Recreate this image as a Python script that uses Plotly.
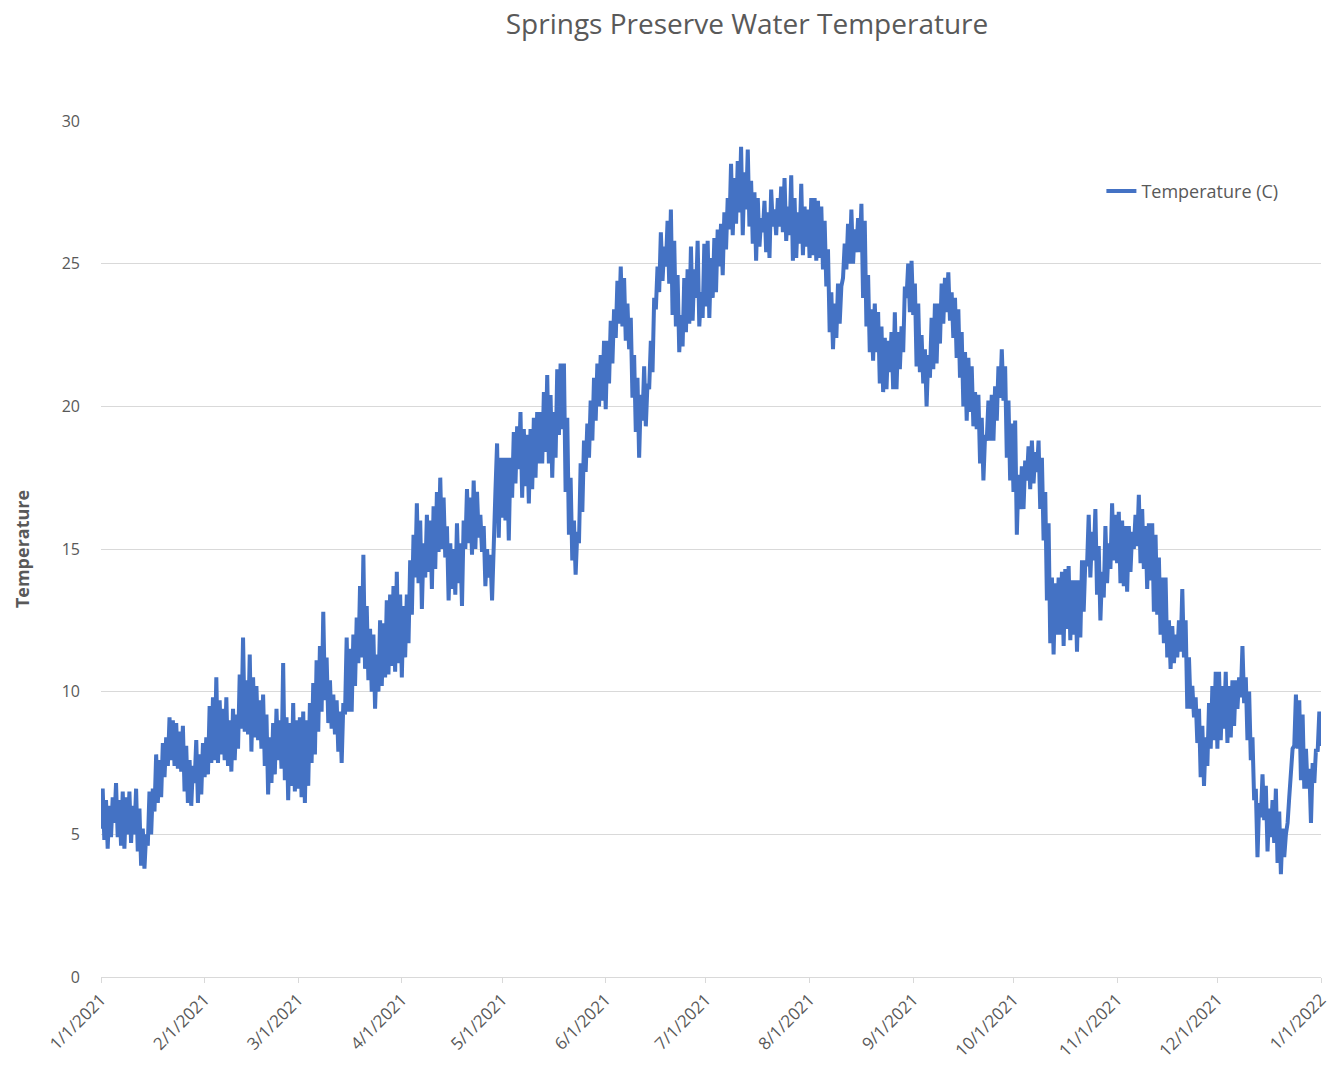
import datetime as dt
import plotly.graph_objects as go

# Daily low / high water temperature (deg C), one pair of lists per month of 2021
jan_lo = [5.2, 4.8, 4.5, 4.9, 5.4, 4.9, 4.6, 4.5, 5.0, 4.7, 5.0, 4.4, 3.9, 3.8, 4.6, 5.0,
          5.8, 6.1, 6.3, 7.0, 7.4, 7.6, 7.4, 7.3, 7.2, 6.5, 6.1, 6.0, 6.8, 6.1, 6.4]
jan_hi = [6.6, 6.2, 6.0, 6.3, 6.8, 6.2, 6.5, 6.3, 6.5, 6.0, 6.6, 5.9, 5.2, 5.0, 6.5, 6.6,
          7.8, 7.6, 8.2, 8.4, 9.1, 9.0, 8.9, 8.6, 8.8, 8.1, 7.6, 7.4, 8.3, 7.8, 8.2]
feb_lo = [7.0, 7.1, 7.5, 7.6, 7.5, 7.8, 7.6, 7.4, 7.2, 7.6, 8.0, 8.7, 8.6, 8.5, 7.9, 8.4,
          8.3, 8.0, 7.4, 6.4, 6.8, 7.1, 7.6, 7.3, 6.9, 6.2, 6.7, 6.5]
feb_hi = [8.4, 9.5, 9.8, 10.5, 9.7, 9.4, 9.8, 9.0, 9.4, 9.2, 10.6, 11.9, 10.4, 11.3, 10.5,
          10.2, 9.7, 9.9, 9.2, 8.4, 8.9, 9.4, 9.0, 11.0, 9.1, 8.9, 9.6, 9.0]
mar_lo = [6.6, 6.3, 6.1, 6.7, 7.5, 7.8, 8.6, 9.3, 9.7, 8.9, 8.7, 8.5, 7.9, 7.5, 9.2, 9.3,
          9.3, 10.2, 11.0, 11.2, 10.8, 10.4, 10.0, 9.4, 10.0, 10.2, 10.5, 10.6, 10.9, 10.7, 11.0]
mar_hi = [9.1, 9.3, 9.0, 9.6, 10.3, 11.1, 11.6, 12.8, 11.2, 10.4, 9.9, 9.7, 9.3, 9.6, 11.9,
          11.5, 12.0, 12.6, 13.7, 14.8, 13.0, 12.2, 12.0, 11.3, 12.5, 12.4, 13.2, 13.4, 13.7,
          14.2, 13.4]
apr_lo = [10.5, 11.2, 11.7, 12.7, 14.0, 13.8, 12.9, 14.0, 14.2, 13.6, 14.3, 14.9, 15.0, 14.7,
          13.2, 13.6, 13.4, 13.8, 13.0, 15.0, 15.2, 14.8, 15.0, 15.4, 14.9, 13.7, 14.0, 13.2,
          17.0, 15.4]
apr_hi = [13.0, 13.4, 14.6, 15.5, 16.6, 16.0, 15.2, 16.2, 16.0, 16.5, 17.0, 17.5, 16.8, 15.8,
          15.2, 15.0, 15.9, 15.2, 16.0, 17.1, 16.8, 17.4, 17.0, 16.2, 15.8, 15.0, 14.8, 15.7,
          18.7, 18.2]
may_lo = [16.1, 16.0, 15.3, 16.8, 17.3, 17.8, 16.8, 17.2, 16.6, 17.1, 17.5, 18.0, 18.0, 18.4,
          18.0, 17.5, 18.2, 19.0, 19.2, 17.0, 15.5, 14.6, 14.1, 15.2, 16.3, 17.7, 18.2, 18.8,
          19.5, 20.0, 20.2]
may_hi = [18.2, 18.2, 18.2, 19.1, 19.3, 19.8, 19.2, 19.0, 19.2, 19.6, 19.8, 19.8, 20.5, 21.1,
          20.4, 19.8, 21.3, 21.5, 21.5, 19.6, 17.5, 16.0, 15.6, 18.0, 18.8, 19.4, 20.2, 21.0,
          21.5, 21.8, 22.3]
jun_lo = [19.9, 20.8, 21.5, 22.4, 22.9, 22.8, 22.3, 22.0, 20.3, 19.1, 18.2, 19.5, 19.3, 20.6,
          21.2, 23.4, 24.0, 24.4, 24.9, 24.3, 23.2, 22.8, 21.9, 22.1, 22.6, 22.9, 23.0, 23.8,
          22.8, 23.1]
jun_hi = [22.3, 23.0, 23.4, 24.4, 24.9, 24.5, 23.6, 23.1, 21.8, 21.0, 20.4, 21.4, 20.8, 22.3,
          23.8, 24.9, 26.1, 25.6, 26.5, 26.9, 25.8, 24.6, 23.2, 24.5, 24.8, 25.6, 24.8, 25.8,
          24.0, 25.7]
jul_lo = [23.5, 23.1, 23.8, 24.0, 24.9, 24.6, 25.5, 26.2, 26.0, 26.4, 26.8, 26.0, 26.9, 26.3,
          25.7, 25.1, 25.6, 26.1, 25.4, 25.2, 26.3, 26.0, 26.3, 26.1, 25.8, 26.0, 25.1, 25.2,
          25.7, 25.3, 25.6]
jul_hi = [25.8, 25.2, 25.9, 26.2, 26.4, 26.8, 27.3, 28.5, 28.0, 28.6, 29.1, 28.2, 29.0, 27.9,
          27.5, 27.3, 26.6, 27.2, 26.8, 27.6, 26.9, 27.3, 27.7, 28.0, 27.0, 28.1, 27.3, 26.8,
          27.8, 27.0, 26.9]
aug_lo = [25.2, 25.3, 25.1, 25.2, 24.8, 24.2, 22.6, 22.0, 22.4, 22.9, 24.5, 24.8, 25.0, 25.0,
          25.4, 25.4, 23.8, 22.8, 21.9, 21.6, 21.9, 20.8, 20.5, 20.6, 21.2, 20.6, 20.6, 21.3,
          21.9, 23.8, 23.3]
aug_hi = [27.3, 27.3, 27.2, 27.0, 26.5, 25.5, 24.0, 23.6, 24.3, 24.2, 25.7, 26.4, 26.9, 26.2,
          26.6, 27.1, 26.5, 24.6, 23.4, 23.6, 23.3, 22.8, 22.4, 22.3, 22.6, 23.3, 22.6, 22.8,
          24.2, 25.0, 25.1]
sep_lo = [23.2, 21.4, 21.2, 20.8, 20.0, 21.0, 21.3, 21.5, 22.2, 22.9, 23.3, 23.0, 22.4, 21.7,
          21.0, 20.0, 19.5, 19.8, 19.3, 19.2, 18.0, 17.4, 18.8, 18.8, 18.8, 19.5, 20.3, 20.2,
          18.2, 17.4]
sep_hi = [24.3, 23.6, 22.5, 22.0, 21.8, 23.1, 23.6, 23.6, 24.3, 24.5, 24.7, 24.0, 23.8, 23.4,
          22.6, 21.9, 21.7, 21.4, 20.5, 20.4, 19.6, 19.0, 20.2, 20.4, 20.7, 21.4, 22.0, 21.4,
          20.2, 19.4]
oct_lo = [17.0, 15.5, 16.4, 16.4, 17.4, 17.1, 17.3, 17.7, 16.4, 15.3, 13.2, 11.7, 11.3, 12.0,
          12.0, 11.6, 12.2, 11.8, 12.0, 11.4, 11.9, 12.8, 14.4, 14.0, 14.6, 13.4, 12.5, 13.3,
          13.8, 14.3, 14.6]
oct_hi = [19.5, 17.6, 17.9, 18.1, 18.6, 18.8, 18.4, 18.8, 18.2, 17.0, 15.9, 14.0, 13.8, 14.0,
          14.2, 14.3, 14.4, 13.9, 13.9, 13.9, 14.6, 14.6, 16.2, 15.6, 16.4, 15.1, 14.2, 15.8,
          15.2, 16.6, 16.2]
nov_lo = [14.5, 13.8, 13.7, 13.5, 14.2, 15.0, 15.1, 14.5, 14.3, 13.6, 13.9, 12.8, 12.7, 12.0,
          11.7, 11.2, 10.8, 11.0, 11.2, 11.4, 11.2, 9.4, 9.4, 9.1, 8.2, 7.0, 6.7, 7.4, 8.0, 8.3]
nov_hi = [16.3, 16.0, 15.8, 15.8, 15.6, 16.2, 16.9, 16.4, 15.8, 15.9, 15.9, 15.5, 14.7, 14.0,
          14.0, 12.5, 12.3, 12.0, 12.5, 13.6, 12.5, 11.2, 10.2, 9.8, 9.4, 8.8, 8.4, 9.6, 10.2, 10.7]
dec_lo = [8.0, 8.3, 8.7, 8.2, 8.4, 8.8, 9.4, 9.8, 9.6, 8.3, 7.6, 6.2, 4.2, 5.6, 5.5, 4.4,
          4.9, 4.7, 4.0, 3.6, 4.2, 5.4, 7.2, 8.1, 8.0, 6.9, 6.6, 6.6, 5.4, 6.8, 7.9]
dec_hi = [10.7, 10.2, 10.7, 10.2, 10.4, 10.4, 10.5, 11.6, 10.5, 10.0, 8.4, 6.6, 6.1, 7.1, 6.7,
          5.9, 6.2, 6.6, 5.8, 5.2, 5.0, 6.3, 8.0, 9.9, 9.7, 9.2, 8.0, 7.3, 7.5, 8.0, 9.3]
last_reading = 8.1  # 1/1/2022

tick_labels = ["1/1/2021", "2/1/2021", "3/1/2021", "4/1/2021", "5/1/2021", "6/1/2021",
               "7/1/2021", "8/1/2021", "9/1/2021", "10/1/2021", "11/1/2021", "12/1/2021",
               "1/1/2022"]

# Readings taken at 00:00 (low) and 12:00 (high) each day
daily_lo = jan_lo + feb_lo + mar_lo + apr_lo + may_lo + jun_lo + jul_lo + aug_lo + sep_lo + oct_lo + nov_lo + dec_lo
daily_hi = jan_hi + feb_hi + mar_hi + apr_hi + may_hi + jun_hi + jul_hi + aug_hi + sep_hi + oct_hi + nov_hi + dec_hi
start = dt.datetime(2021, 1, 1)
times, temps = [], []
for i, (lo, hi) in enumerate(zip(daily_lo, daily_hi)):
    day = start + dt.timedelta(days=i)
    times += [day, day + dt.timedelta(hours=12)]
    temps += [lo, hi]
times.append(start + dt.timedelta(days=len(daily_lo)))
temps.append(last_reading)

tick_vals = [dt.datetime(2021 + (m // 12), (m % 12) + 1, 1) for m in range(13)]

grey = "#595959"
font = "Open Sans, Liberation Sans, sans-serif"

fig = go.Figure()
fig.add_trace(go.Scatter(
    x=times, y=temps, mode="lines", name="Temperature (C)",
    line=dict(color="#4472C4", width=4),
))

fig.update_layout(
    width=1333, height=1067, autosize=False,
    paper_bgcolor="white", plot_bgcolor="white",
    margin=dict(l=101, r=12, t=121, b=90),
    title=dict(text="Springs Preserve Water Temperature", x=0.5604, xanchor="center",
               y=0.977, yanchor="middle",
               font=dict(family=font, size=28, color=grey)),
    font=dict(family=font, color=grey),
    showlegend=True,
    legend=dict(x=0.82, y=0.918, xanchor="left", yanchor="middle",
                bgcolor="rgba(0,0,0,0)", font=dict(size=18, color=grey)),
)
fig.update_xaxes(
    range=[tick_vals[0], tick_vals[-1]], automargin=False,
    tickmode="array", tickvals=tick_vals, ticktext=tick_labels,
    tickangle=-45, tickfont=dict(size=17, color=grey),
    showgrid=False, showline=True, linecolor="#d9d9d9", linewidth=1,
    ticks="outside", ticklen=5, tickcolor="#d9d9d9", zeroline=False,
)
fig.update_yaxes(
    range=[0, 30], tickvals=[0, 5, 10, 15, 20, 25, 30], automargin=False,
    tickfont=dict(size=16, color=grey),
    showgrid=True, gridcolor="#d9d9d9", gridwidth=1, zeroline=False,
    showline=False, ticks="", ticklabelstandoff=20,
    title=dict(text="<b>Temperature</b>", font=dict(size=18, color=grey), standoff=27),
)

fig.write_html(
    "out.html",
    config={"responsive": False, "displayModeBar": False},
    post_script="document.body.style.margin='0';document.body.style.overflow='hidden';",
)
